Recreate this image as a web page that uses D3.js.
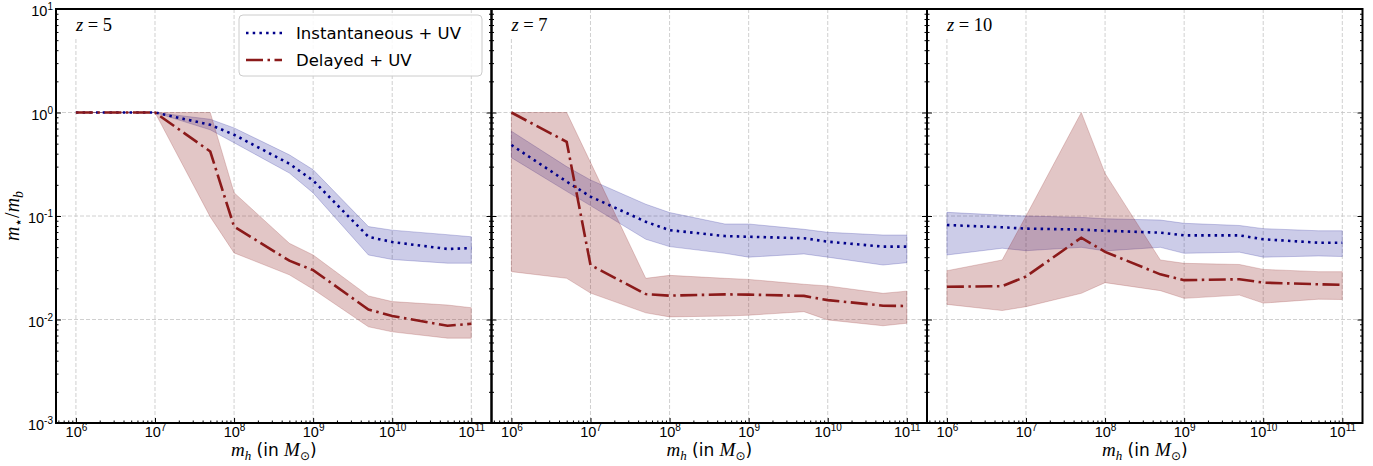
<!DOCTYPE html>
<html><head><meta charset="utf-8">
<script src="https://cdn.jsdelivr.net/npm/d3@7"></script>
<style>body{margin:0;background:#fff}svg{display:block}</style>
</head><body>
<svg id="c" width="1373" height="466"></svg>
<script>
// ---------- data ----------
const massGrid = [1e6, 5e6, 1e7, 5e7, 1e8, 5e8, 1e9, 5e9, 1e10, 5e10, 1e11];
const redshiftLabels = ["5", "7", "10"];
const xTickValues = [1e6, 1e7, 1e8, 1e9, 1e10, 1e11];
const yTickValues = [1e-3, 1e-2, 1e-1, 1e0, 1e1];
const legendLabels = ["Instantaneous + UV", "Delayed + UV"];

// z = 5
const instMed_z5 = [1, 1, 1, 0.76, 0.61, 0.32, 0.22, 0.063, 0.056, 0.048, 0.049];
const instHi_z5  = [1, 1, 1, 0.86, 0.71, 0.39, 0.28, 0.079, 0.073, 0.066, 0.063];
const instLo_z5  = [1, 1, 1, 0.68, 0.51, 0.26, 0.167, 0.042, 0.038, 0.035, 0.035];
const delMed_z5  = [1, 1, 1, 0.42, 0.079, 0.037, 0.030, 0.0125, 0.0108, 0.0087, 0.0091];
const delHi_z5   = [1, 1, 1, 1.0, 0.168, 0.0545, 0.042, 0.0169, 0.0149, 0.0138, 0.0130];
const delLo_z5   = [1, 1, 1, 0.098, 0.044, 0.027, 0.0196, 0.0085, 0.0076, 0.0066, 0.0066];
// z = 7
const instMed_z7 = [0.485, 0.215, 0.154, 0.088, 0.073, 0.064, 0.063, 0.061, 0.0565, 0.0506, 0.0506];
const instHi_z7  = [0.66, 0.30, 0.223, 0.13, 0.108, 0.0837, 0.0837, 0.0744, 0.0696, 0.0655, 0.0655];
const instLo_z7  = [0.366, 0.173, 0.126, 0.0596, 0.0506, 0.0436, 0.040, 0.043, 0.040, 0.0336, 0.0354];
const delMed_z7  = [1.0, 0.52, 0.0336, 0.0176, 0.017, 0.0175, 0.0174, 0.0169, 0.0154, 0.0136, 0.0135];
const delHi_z7   = [1.0, 1.0, 0.33, 0.025, 0.0267, 0.025, 0.0244, 0.0219, 0.0211, 0.0179, 0.0188];
const delLo_z7   = [0.029, 0.025, 0.018, 0.0116, 0.0106, 0.0108, 0.011, 0.0119, 0.0099, 0.0087, 0.0092];
// z = 10
const instMed_z10 = [0.0818, 0.0778, 0.0755, 0.074, 0.072, 0.069, 0.065, 0.065, 0.0596, 0.0552, 0.0552];
const instHi_z10  = [0.1085, 0.102, 0.10, 0.097, 0.094, 0.0914, 0.085, 0.081, 0.0755, 0.072, 0.072];
const instLo_z10  = [0.042, 0.0488, 0.0462, 0.0498, 0.046, 0.0498, 0.0436, 0.0447, 0.040, 0.0411, 0.0406];
const delMed_z10  = [0.0207, 0.021, 0.026, 0.0617, 0.045, 0.0273, 0.024, 0.0245, 0.0227, 0.0219, 0.0216];
const delHi_z10   = [0.0296, 0.0376, 0.10, 1.0, 0.258, 0.0376, 0.0349, 0.034, 0.0305, 0.029, 0.029];
const delLo_z10   = [0.014, 0.0122, 0.0133, 0.0179, 0.0227, 0.019, 0.016, 0.0172, 0.0144, 0.0157, 0.0156];

const panels = [
  {z: redshiftLabels[0], inst: [instMed_z5, instLo_z5, instHi_z5], del: [delMed_z5, delLo_z5, delHi_z5]},
  {z: redshiftLabels[1], inst: [instMed_z7, instLo_z7, instHi_z7], del: [delMed_z7, delLo_z7, delHi_z7]},
  {z: redshiftLabels[2], inst: [instMed_z10, instLo_z10, instHi_z10], del: [delMed_z10, delLo_z10, delHi_z10]}
];

// ---------- layout ----------
const left0 = 56, pw = 435.5, pTop = 9, pBottom = 423;
const blue = "#00008B", red = "#8B1A1A";
const sans = "'DejaVu Sans', sans-serif";
const serif = "'Liberation Serif', 'DejaVu Serif', serif";

const svg = d3.select("#c");
const x = d3.scaleLog().domain([5.6e5, 1.8e11]).range([0, pw]);
const y = d3.scaleLog().domain([1e-3, 1e1]).range([pBottom, pTop]);

const minorX = [];
for (let k = 5; k <= 11; k++) for (let m = 2; m <= 9; m++) {
  const v = m * Math.pow(10, k);
  if (v > x.domain()[0] && v < x.domain()[1]) minorX.push(v);
}
const minorY = [];
for (let k = -3; k <= 0; k++) for (let m = 2; m <= 9; m++) minorY.push(m * Math.pow(10, k));

function supLabel(sel, ybase) {
  sel.each(function(d) {
    const t = d3.select(this);
    t.text(null).attr("dy", null).attr("y", ybase);
    t.append("tspan").text("10");
    t.append("tspan").attr("dy", -6).attr("font-size", 10).text(Math.round(Math.log10(d)));
  });
}

panels.forEach((p, i) => {
  const g = svg.append("g").attr("transform", `translate(${left0 + i * pw},0)`);
  const clipId = "clip" + i;
  g.append("clipPath").attr("id", clipId).append("rect")
    .attr("x", 0).attr("y", pTop).attr("width", pw).attr("height", pBottom - pTop);

  // grid
  const grid = g.append("g").attr("stroke", "#c4c4c4").attr("stroke-width", 0.8).attr("stroke-dasharray", "4,2");
  grid.selectAll("line.gx").data(xTickValues).join("line").attr("class", "gx")
    .attr("x1", d => x(d)).attr("x2", d => x(d)).attr("y1", pTop).attr("y2", pBottom);
  grid.selectAll("line.gy").data(yTickValues.slice(1, -1)).join("line").attr("class", "gy")
    .attr("x1", 0).attr("x2", pw).attr("y1", d => y(d)).attr("y2", d => y(d));

  const series = [
    {vals: p.inst, color: blue, alpha: 0.2, dash: "2.5,4.2"},
    {vals: p.del, color: red, alpha: 0.25, dash: "17,4.5,2.5,4.5"}
  ];

  // redshift label (with white box behind, under data)
  const zt = g.append("text").attr("x", x(1e6)).attr("y", 31)
    .attr("font-family", serif).attr("font-size", 18.5).attr("fill", "#000");
  zt.append("tspan").attr("font-style", "italic").text("z");
  zt.append("tspan").text(" = " + p.z);
  const bb = zt.node().getBBox();
  g.insert("rect", "text").attr("x", bb.x - 3).attr("y", pTop + 1).attr("width", bb.width + 6).attr("height", 28)
    .attr("fill", "#fff");

  const data = g.append("g").attr("clip-path", `url(#${clipId})`);
  const area = d3.area().x((d, j) => x(massGrid[j])).y0(d => y(d[0])).y1(d => y(d[1]));
  const line = d3.line().x((d, j) => x(massGrid[j])).y(d => y(d));

  series.forEach(s => {
    const band = s.vals[1].map((lo, j) => [lo, s.vals[2][j]]);
    data.append("path").attr("d", area(band))
      .attr("fill", s.color).attr("fill-opacity", s.alpha)
      .attr("stroke", s.color).attr("stroke-opacity", 0.25).attr("stroke-width", 0.8);
  });
  series.forEach(s => {
    data.append("path").attr("d", line(s.vals[0]))
      .attr("fill", "none").attr("stroke", s.color).attr("stroke-width", 2.6)
      .attr("stroke-dasharray", s.dash);
  });

  // axes
  const ax = g.append("g").attr("font-family", sans).attr("font-size", 14.5);
  const bx = ax.append("g").attr("transform", `translate(0,${pBottom})`)
    .call(d3.axisBottom(x).tickValues(xTickValues).tickSize(-5));
  bx.select(".domain").remove();
  bx.selectAll("text").attr("fill", "#000").attr("font-size", 14.5).call(supLabel, 14);
  const bxm = ax.append("g").attr("transform", `translate(0,${pBottom})`)
    .call(d3.axisBottom(x).tickValues(minorX).tickSize(-2.5).tickFormat(""));
  bxm.select(".domain").remove();

  const ly = ax.append("g").call(d3.axisLeft(y).tickValues(yTickValues).tickSize(-5).tickPadding(3));
  ly.select(".domain").remove();
  if (i === 0) {
    ly.selectAll("text").attr("fill", "#000").attr("font-size", 14.5).call(supLabel, 6.5);
  } else {
    ly.selectAll("text").remove();
  }
  const lym = ax.append("g").call(d3.axisLeft(y).tickValues(minorY).tickSize(-2.5).tickFormat(""));
  lym.select(".domain").remove();
  const ry = ax.append("g").attr("transform", `translate(${pw},0)`)
    .call(d3.axisRight(y).tickValues(yTickValues).tickSize(-5).tickFormat(""));
  ry.select(".domain").remove();
  const rym = ax.append("g").attr("transform", `translate(${pw},0)`)
    .call(d3.axisRight(y).tickValues(minorY).tickSize(-2.5).tickFormat(""));
  rym.select(".domain").remove();

  // x label
  const xl = g.append("text").attr("x", pw / 2).attr("y", 456).attr("text-anchor", "middle")
    .attr("font-size", 17).attr("font-family", sans).attr("fill", "#000");
  xl.append("tspan").attr("font-family", serif).attr("font-style", "italic").attr("font-size", 19).text("m");
  xl.append("tspan").attr("font-family", serif).attr("font-style", "italic").attr("font-size", 13).attr("dy", 4).text("h");
  xl.append("tspan").attr("dy", -4).text(" (in ");
  xl.append("tspan").attr("font-family", serif).attr("font-style", "italic").attr("font-size", 19).text("M");
  xl.append("tspan").attr("font-size", 12).attr("dy", 4).text("⊙");
  xl.append("tspan").attr("dy", -4).text(")");

  // legend
  if (i === 0) {
    const lg = g.append("g");
    lg.append("rect").attr("x", 183).attr("y", 15).attr("width", 243).attr("height", 61).attr("rx", 4)
      .attr("fill", "#fff").attr("fill-opacity", 0.85).attr("stroke", "#cccccc").attr("stroke-width", 1);
    series.forEach((s, k) => {
      const yy = 33 + k * 27;
      lg.append("line").attr("x1", 190).attr("x2", 226).attr("y1", yy).attr("y2", yy)
        .attr("stroke", s.color).attr("stroke-width", 2.6).attr("stroke-dasharray", s.dash);
      lg.append("text").attr("x", 240).attr("y", yy + 6).attr("font-family", sans).attr("font-size", 16.5)
        .attr("fill", "#000").text(legendLabels[k]);
    });
  }

  // spines
  g.append("rect").attr("x", 0).attr("y", pTop).attr("width", pw).attr("height", pBottom - pTop)
    .attr("fill", "none").attr("stroke", "#000").attr("stroke-width", 2);
});

// y label
const yl = svg.append("text").attr("transform", "translate(19,216) rotate(-90)").attr("text-anchor", "middle")
  .attr("font-family", serif).attr("font-size", 20).attr("fill", "#000");
yl.append("tspan").attr("font-style", "italic").text("m");
yl.append("tspan").attr("font-family", sans).attr("font-size", 14).attr("dy", 4).text("⋆");
yl.append("tspan").attr("dy", -4).text("/");
yl.append("tspan").attr("font-style", "italic").text("m");
yl.append("tspan").attr("font-style", "italic").attr("font-size", 14).attr("dy", 4).text("b");
</script>
</body></html>
